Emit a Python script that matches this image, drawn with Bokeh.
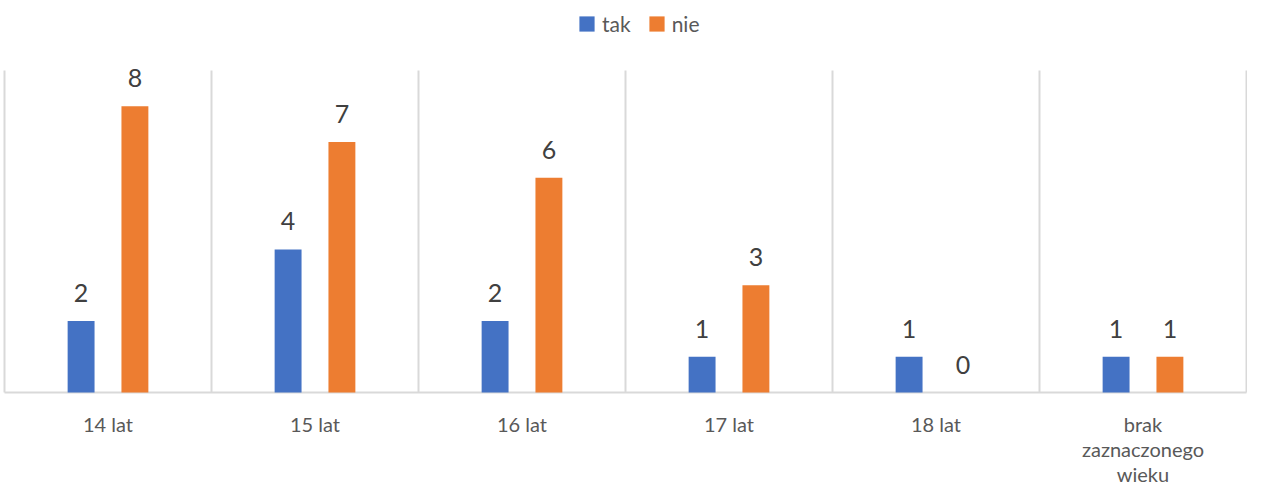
from bokeh.plotting import figure
from bokeh.models import ColumnDataSource, Range1d, LabelSet, Legend, LegendItem
from bokeh.core.properties import value
from bokeh.embed import file_html
from bokeh.resources import INLINE

categories = ["14 lat", "15 lat", "16 lat", "17 lat", "18 lat",
              "brak\nzaznaczonego\nwieku"]
tak = [2, 4, 2, 1, 1, 1]
nie = [8, 7, 6, 3, 0, 1]
series_names = ["tak", "nie"]
colors = ["#4472C4", "#ED7D31"]
y_max = 9

n = len(categories)
centers = [i + 0.5 for i in range(n)]
bounds = list(range(n + 1))
dodge = 0.13
bw = 0.13

W, H = 1247, 486
plot_left, plot_right = 4, 1246       # canvas px of x=0 and x=n
plot_top, plot_bottom = 70, 392       # canvas px of y=y_max and y=0
px_x = (plot_right - plot_left) / n
px_y = (plot_bottom - plot_top) / y_max

p = figure(width=W, height=H, output_backend="svg", toolbar_location=None,
           x_range=Range1d(-plot_left / px_x, n + (W - plot_right) / px_x),
           y_range=Range1d(-(H - plot_bottom) / px_y, y_max + plot_top / px_y),
           min_border=0)
p.outline_line_color = None
p.background_fill_color = "white"
p.border_fill_color = "white"
p.xaxis.visible = False
p.yaxis.visible = False
p.grid.visible = False

# category separators and baseline
p.segment(x0=bounds, y0=[0] * len(bounds), x1=bounds, y1=[y_max] * len(bounds),
          line_color="#D9D9D9", line_width=2)
p.segment(x0=[0], y0=[0], x1=[n], y1=[0], line_color="#D9D9D9", line_width=2)

src_tak = ColumnDataSource(dict(x=[c - dodge for c in centers], top=tak,
                                lab=[str(v) for v in tak]))
src_nie = ColumnDataSource(dict(x=[c + dodge for c in centers], top=nie,
                                lab=[str(v) for v in nie]))

# category labels, one row per text line, each line centred
cx, cy, ctext, coff = [], [], [], []
for c, lab in zip(centers, categories):
    for j, line in enumerate(lab.split("\n")):
        cx.append(c)
        cy.append(0)
        ctext.append(line)
        coff.append(-19 - 25 * j)
src_cat = ColumnDataSource(dict(x=cx, y=cy, lab=ctext, yo=coff))

r1 = p.vbar(x="x", top="top", width=bw, bottom=0, source=src_tak,
            fill_color=colors[0], line_color=None)
r2 = p.vbar(x="x", top="top", width=bw, bottom=0, source=src_nie,
            fill_color=colors[1], line_color=None)

for src in (src_tak, src_nie):
    p.add_layout(LabelSet(x="x", y="top", text="lab", source=src,
                          text_align="center", text_baseline="alphabetic",
                          y_offset=19, text_font=value("Lato"),
                          text_font_size="25px", text_color="#404040"))

p.add_layout(LabelSet(x="x", y="y", text="lab", source=src_cat,
                      text_align="center", text_baseline="top",
                      y_offset="yo", text_font=value("Lato"),
                      text_font_size="20px", text_color="#595959"))

legend = Legend(items=[LegendItem(label=series_names[0], renderers=[r1]),
                       LegendItem(label=series_names[1], renderers=[r2])],
                orientation="horizontal", location=(577, H - 36),
                padding=0, margin=0, spacing=16, label_standoff=6,
                glyph_width=19, glyph_height=19,
                label_text_font="Lato", label_text_font_size="21px",
                label_text_color="#595959",
                border_line_color=None, background_fill_alpha=0)
p.add_layout(legend, "center")

open("out.html", "w").write(file_html(p, INLINE))
